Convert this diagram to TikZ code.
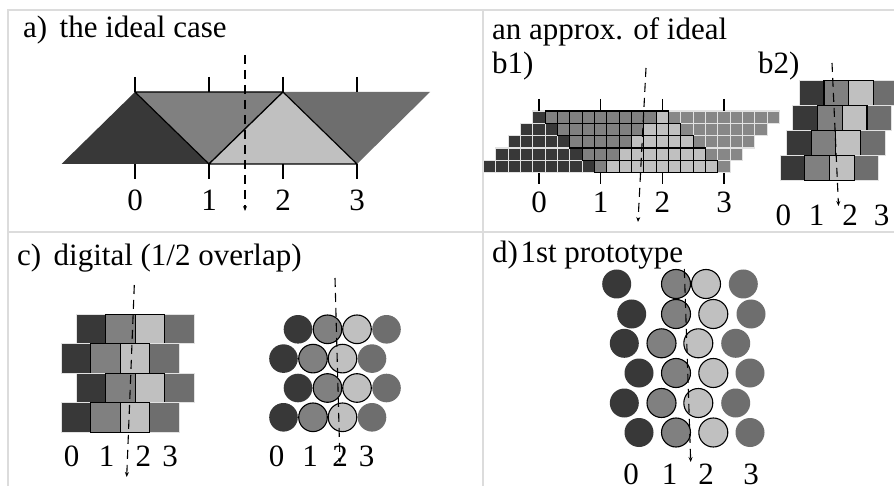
\documentclass[tikz,border=0pt]{standalone}
\usepackage{fontspec}
\setmainfont{Liberation Serif}
\usetikzlibrary{arrows.meta}
\definecolor{cdark}{HTML}{383838}
\definecolor{cmed}{HTML}{808080}
\definecolor{clight}{HTML}{C0C0C0}
\definecolor{cright}{HTML}{6E6E6E}
\definecolor{cbright}{HTML}{878787}
\definecolor{cgrid}{HTML}{DCDCDC}
\definecolor{cedge}{HTML}{E2E2E2}
\begin{document}
\begin{tikzpicture}[x=1pt,y=-1pt,
  gridline/.style={draw=cgrid,line width=1.5pt},
  title/.style={font=\fontsize{31}{34}\selectfont,inner sep=0pt,anchor=base west},
  lab/.style={font=\fontsize{31}{34}\selectfont,inner sep=0pt},
  tickmark/.style={line width=1.2pt},
  dasharrow/.style={line width=1.1pt,dash pattern=on 9pt off 6pt,-{Stealth[length=5pt,width=4pt]}},
  softsq/.style={draw=cedge,line width=1.1pt},
  hardsq/.style={draw=black,line width=1.1pt}]
\useasboundingbox (0,0) rectangle (894,486);
\clip (0,0) rectangle (894,486);
\fill[white] (0,0) rectangle (894,486);
% table lines
\draw[gridline] (8,486) -- (8,10) -- (894,10);
\draw[gridline] (483,10) -- (483,486);
\draw[gridline] (8,232) -- (894,232);
% titles
\node[title] (ta) at (23,38) {a)\hspace{0.4em}the ideal case};
\node[title] (tb) at (492,40) {an approx. of ideal};
\node[title] (tb1) at (492,74) {b1)};
\node[title] (tb2) at (758,74) {b2)};
\node[title] (tc) at (17,266) {c)\hspace{0.4em}digital (1/2 overlap)};
\node[title] (td) at (492,263) {d)\hspace{0.08em}1st prototype};
% ---------- panel a ----------
\fill[cdark] (61.5,164) -- (135,92) -- (209,164) -- cycle;
\fill[cright] (283,92) -- (357,164) -- (430,92) -- cycle;
\filldraw[fill=cmed,line width=1.2pt,line join=round] (135,92) -- (283,92) -- (209,164) -- cycle;
\filldraw[fill=clight,line width=1.2pt,line join=round] (209,164) -- (283,92) -- (357,164) -- cycle;
\foreach \x in {135,209,283,357}{
  \draw[tickmark] (\x,77) -- (\x,92);
  \draw[tickmark] (\x,164) -- (\x,179);
}
\node[lab] (a0) at (135,200) {0};
\node[lab] (a1) at (209,200) {1};
\node[lab] (a2) at (283,200) {2};
\node[lab] (a3) at (357,200) {3};
\coordinate (aS) at (245,55);
\coordinate (aE) at (245,211);
\draw[dasharrow] (aS) -- (aE);
% ---------- panel b1 ----------
\foreach \k in {1,...,5}{
  \foreach \i in {0,...,19}{
    \pgfmathsetmacro\xl{539+(2*\i-2*\k+1)*6.1667}
    \pgfmathsetmacro\yt{111+(\k-1)*12.333}
    \pgfmathtruncatemacro\cls{(\i<=2*\k-2) ? 0 : ((\i<=2*\k+8) ? 4 : 3)}
    \ifnum\cls=0
      \draw[softsq,fill=cdark] (\xl,\yt) rectangle ++(12.333,12.333);
    \fi
    \ifnum\cls=3
      \draw[softsq,fill=cbright] (\xl,\yt) rectangle ++(12.333,12.333);
    \fi
  }
}
\foreach \k in {1,...,5}{
  \foreach \i in {0,...,19}{
    \pgfmathsetmacro\xl{539+(2*\i-2*\k+1)*6.1667}
    \pgfmathsetmacro\yt{111+(\k-1)*12.333}
    \pgfmathtruncatemacro\cls{(\i<=2*\k-2) ? 0 : ((\i<=9) ? 1 : ((\i<=2*\k+8) ? 2 : 3))}
    \ifnum\cls=1
      \draw[hardsq,fill=cmed] (\xl,\yt) rectangle ++(12.333,12.333);
    \fi
    \ifnum\cls=2
      \draw[hardsq,fill=clight] (\xl,\yt) rectangle ++(12.333,12.333);
    \fi
  }
}
\foreach \x in {539,600.7,662.3,724}{
  \draw[tickmark] (\x,99) -- (\x,111);
  \draw[tickmark] (\x,173) -- (\x,184);
}
\node[lab] (b10) at (539,202) {0};
\node[lab] (b11) at (600.7,202) {1};
\node[lab] (b12) at (662.3,202) {2};
\node[lab] (b13) at (724,202) {3};
\coordinate (b1S) at (646,68);
\coordinate (b1E) at (638,222);
\draw[dasharrow] (b1S) -- (b1E);
% ---------- panel b2 ----------
\foreach \xs/\yt in {799.3/80.7, 792.9/105.7, 786.5/130.7, 780.1/155.7}{
  \draw[softsq,fill=cdark] (\xs,\yt) rectangle ++(24.7,25);
  \draw[softsq,fill=cright] (\xs+74.1,\yt) rectangle ++(24.7,25);
  \draw[hardsq,fill=cmed] (\xs+24.7,\yt) rectangle ++(24.7,25);
  \draw[hardsq,fill=clight] (\xs+49.4,\yt) rectangle ++(24.7,25);
}
\node[lab] (b20) at (783.3,215) {0};
\node[lab] (b21) at (816.7,215) {1};
\node[lab] (b22) at (850,215) {2};
\node[lab] (b23) at (881.7,215) {3};
\coordinate (b2S) at (832,63);
\coordinate (b2E) at (838.5,206);
\draw[dasharrow] (b2S) -- (b2E);
% ---------- panel c, squares ----------
\foreach \xs/\yt in {76.5/314.5, 61.5/343.9, 76.5/373.3, 61.5/402.7}{
  \draw[softsq,fill=cdark] (\xs,\yt) rectangle ++(29.4,29.4);
  \draw[softsq,fill=cright] (\xs+88.2,\yt) rectangle ++(29.4,29.4);
  \draw[hardsq,fill=cmed] (\xs+29.4,\yt) rectangle ++(29.4,29.4);
  \draw[hardsq,fill=clight] (\xs+58.8,\yt) rectangle ++(29.4,29.4);
}
\node[lab] (c0) at (71.7,456.7) {0};
\node[lab] (c1) at (106.7,456.7) {1};
\node[lab] (c2) at (143.3,456.7) {2};
\node[lab] (c3) at (170,456.7) {3};
\coordinate (cS) at (134.3,285);
\coordinate (cE) at (126.7,477);
\draw[dasharrow] (cS) -- (cE);
% ---------- panel c, circles ----------
\foreach \xs/\yc in {298/329.3, 283.5/358.6, 298/388, 283.5/417.3}{
  \fill[cdark] (\xs,\yc) circle (14.3pt);
  \fill[cright] (\xs+88.5,\yc) circle (14.3pt);
  \draw[hardsq,fill=cmed] (\xs+29.5,\yc) circle (14.3pt);
  \draw[hardsq,fill=clight] (\xs+59,\yc) circle (14.3pt);
}
\node[lab] (cc0) at (276.7,456.7) {0};
\node[lab] (cc1) at (310,456.7) {1};
\node[lab] (cc2) at (340,456.7) {2};
\node[lab] (cc3) at (366.7,456.7) {3};
\coordinate (ccS) at (335,278);
\coordinate (ccE) at (340,463);
\draw[dasharrow] (ccS) -- (ccE);
% ---------- panel d ----------
\foreach \yc/\xd/\xm/\xl/\xr in {284/616.7/676/706/743.3, 314/631.7/676/713.3/751, 343.3/624.3/661.5/698.3/735.7, 373/639/676/713.3/750, 403/624.3/661.5/698.3/735.7, 432.5/639/676/713.3/750}{
  \fill[cdark] (\xd,\yc) circle (14.5pt);
  \fill[cright] (\xr,\yc) circle (14.5pt);
  \draw[hardsq,fill=cmed] (\xm,\yc) circle (14.5pt);
  \draw[hardsq,fill=clight] (\xl,\yc) circle (14.5pt);
}
\node[lab] (d0) at (631,474) {0};
\node[lab] (d1) at (669.5,474) {1};
\node[lab] (d2) at (706,474) {2};
\node[lab] (d3) at (751,474) {3};
\coordinate (dS) at (684.3,269);
\coordinate (dE) at (690.7,462);
\draw[dasharrow] (dS) -- (dE);
\end{tikzpicture}
\end{document}
